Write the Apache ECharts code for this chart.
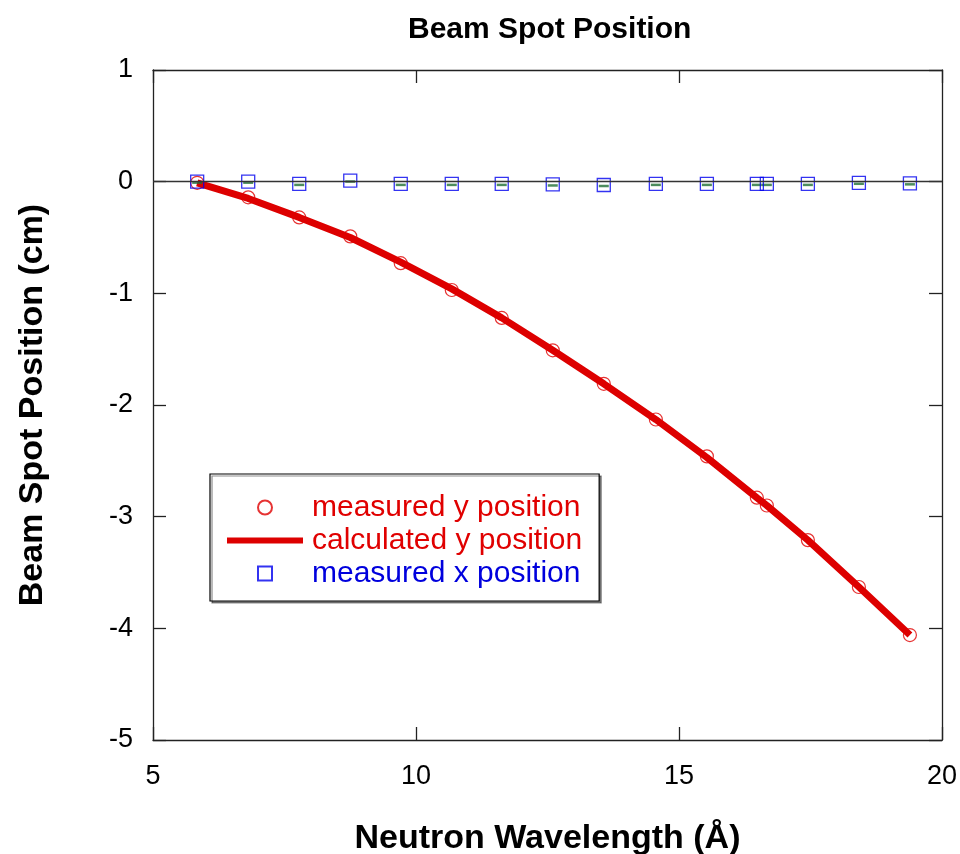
<!DOCTYPE html>
<html>
<head>
<meta charset="utf-8">
<script src="https://cdn.jsdelivr.net/npm/echarts@6/dist/echarts.min.js"></script>
<style>html,body{margin:0;padding:0;background:#fff;}#c{width:960px;height:854px;}</style>
</head>
<body>
<div id="c"></div>
<script>
// Neutron wavelength (Å)
const wavelength = [5.84, 6.81, 7.78, 8.75, 9.71, 10.68, 11.63, 12.60, 13.57, 14.56, 15.53, 16.48, 16.67, 17.45, 18.42, 19.39];
// measured y position (cm)
const measuredY = [-0.01, -0.14, -0.32, -0.49, -0.73, -0.97, -1.22, -1.51, -1.81, -2.13, -2.46, -2.83, -2.90, -3.21, -3.63, -4.06];
// calculated y position (cm)
const calculatedY = [-0.01, -0.15, -0.32, -0.50, -0.72, -0.96, -1.22, -1.51, -1.81, -2.13, -2.47, -2.83, -2.90, -3.21, -3.63, -4.06];
// measured x position (cm)
const measuredX = [0.00, 0.00, -0.02, 0.01, -0.02, -0.02, -0.02, -0.025, -0.03, -0.02, -0.02, -0.02, -0.02, -0.02, -0.01, -0.015];
const xTicks = [5, 10, 15, 20];
const yTicks = [1, 0, -1, -2, -3, -4, -5];

const pairs = (xs, ys) => xs.map((x, i) => [x, ys[i]]);
const FONT = '"Liberation Sans", Arial, sans-serif';
const axisLine = { show: true, onZero: false, lineStyle: { color: '#222', width: 1.3 } };
const axisTick = { show: true, inside: true, length: 13, lineStyle: { color: '#222', width: 1.3 } };

const chart = echarts.init(document.getElementById('c'), null, { renderer: 'canvas' });
chart.setOption({
  backgroundColor: '#fff',
  animation: false,
  title: {
    text: 'Beam Spot Position', left: 403, top: 10,
    textStyle: { fontFamily: FONT, fontWeight: 'bold', fontSize: 30, color: '#000' }
  },
  grid: { left: 153, right: 18, top: 70, bottom: 114, containLabel: false, outerBoundsMode: 'none' },
  xAxis: [{
    type: 'value', min: xTicks[0], max: xTicks[xTicks.length - 1], interval: 5,
    position: 'bottom',
    name: 'Neutron Wavelength (Å)', nameLocation: 'middle', nameGap: 82,
    nameTextStyle: { fontFamily: FONT, fontWeight: 'bold', fontSize: 34, color: '#000' },
    axisLine, axisTick, splitLine: { show: false },
    axisLabel: { fontFamily: FONT, fontSize: 27, color: '#000', margin: 23 }
  }, {
    type: 'value', min: 5, max: 20, interval: 5, position: 'top',
    axisLine, axisTick, splitLine: { show: false }, axisLabel: { show: false }
  }],
  yAxis: [{
    type: 'value', min: yTicks[yTicks.length - 1], max: yTicks[0], interval: 1,
    position: 'left',
    name: 'Beam Spot Position (cm)', nameLocation: 'middle', nameGap: 103, nameRotate: 90,
    nameTextStyle: { fontFamily: FONT, fontWeight: 'bold', fontSize: 34, color: '#000' },
    axisLine, axisTick, splitLine: { show: false },
    axisLabel: { fontFamily: FONT, fontSize: 27, color: '#000', margin: 20 }
  }, {
    type: 'value', min: -5, max: 1, interval: 1, position: 'right',
    axisLine, axisTick, splitLine: { show: false }, axisLabel: { show: false }
  }],
  legend: {
    orient: 'vertical', left: 210, top: 474,
    padding: [17, 17, 11, 17],
    itemWidth: 76, itemHeight: 14, itemGap: 0, symbolKeepAspect: true,
    borderColor: '#000', borderWidth: 1.2, backgroundColor: '#fff',
    shadowColor: 'rgba(0,0,0,0.45)', shadowOffsetX: 2, shadowOffsetY: 2, shadowBlur: 0,
    textStyle: { fontFamily: FONT, fontSize: 30, lineHeight: 33, padding: [0, 0, 0, 4] },
    data: [
      { name: 'measured y position', icon: 'circle', textStyle: { color: '#e00000' } },
      { name: 'calculated y position', icon: 'path://M0,0H76V6H0Z', textStyle: { color: '#e00000' } },
      { name: 'measured x position', icon: 'path://M0,0H10V10H0Z', textStyle: { color: '#0000dd' } }
    ]
  },
  series: [
    {
      name: 'calculated y position', type: 'line', data: pairs(wavelength, calculatedY),
      symbol: 'none', lineStyle: { color: '#dd0000', width: 7 }, itemStyle: { color: '#dd0000' },
      z: 2,
      markLine: {
        silent: true, symbol: 'none', label: { show: false },
        lineStyle: { color: '#333', width: 1.4, type: 'solid' },
        data: [{ yAxis: 0 }]
      }
    },
    {
      name: 'measured y position', type: 'scatter', data: pairs(wavelength, measuredY),
      symbol: 'circle', symbolSize: 13,
      itemStyle: { color: 'transparent', borderColor: '#e00000', borderWidth: 1.2 }, z: 3
    },
    {
      name: 'x error', type: 'scatter', data: pairs(wavelength, measuredX),
      symbol: 'rect', symbolSize: [10, 2.5], symbolOffset: [0, 1],
      itemStyle: { color: '#1f6f35' }, z: 3
    },
    {
      name: 'measured x position', type: 'scatter', data: pairs(wavelength, measuredX),
      symbol: 'rect', symbolSize: 13,
      itemStyle: { color: 'transparent', borderColor: '#0000ee', borderWidth: 1.3 }, z: 4
    }
  ]
});
</script>
</body>
</html>
